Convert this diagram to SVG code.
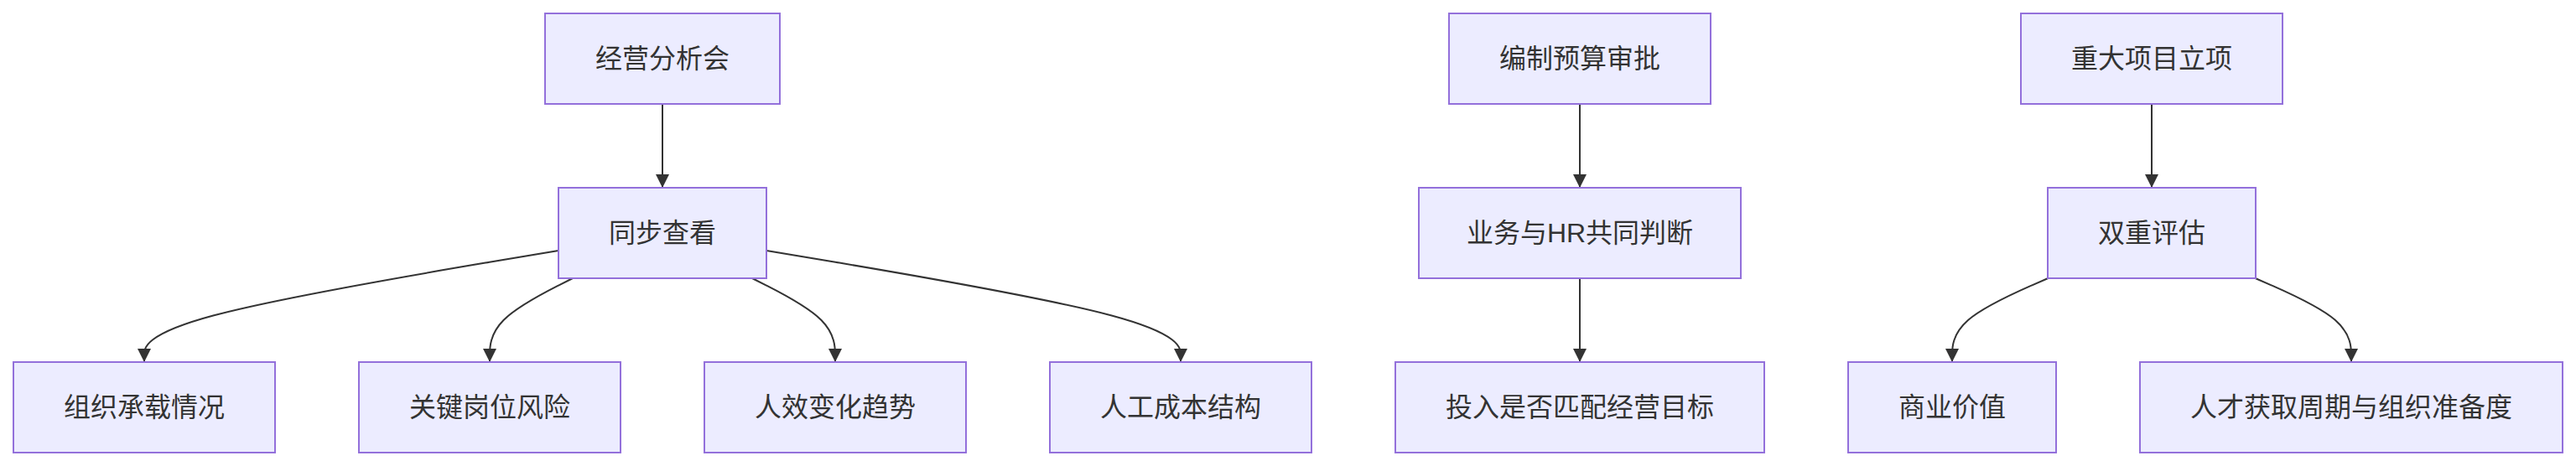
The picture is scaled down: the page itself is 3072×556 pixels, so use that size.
<svg xmlns="http://www.w3.org/2000/svg" width="3072" height="556" viewBox="0 0 3072 556">
<style>
.node rect{fill:#ECECFF;stroke:#9370DB;stroke-width:2}
.node text{font-family:"Liberation Sans","Noto Sans CJK SC",sans-serif;font-size:32px;fill:#333333;text-anchor:middle;dominant-baseline:central}
.edges path{fill:none;stroke:#333333;stroke-width:2;marker-end:url(#arrow)}
</style>
<defs>
<marker id="arrow" viewBox="0 0 10 10" refX="10" refY="5" markerUnits="userSpaceOnUse" markerWidth="16" markerHeight="16" orient="auto">
<path d="M0,0 L10,5 L0,10 z" fill="#333333"/>
</marker>
</defs>
<rect width="3072" height="556" fill="#ffffff"/>
<g class="edges">
<path d="M790,124 L790,224"/>
<path d="M666,299 L583.7,312.8 C501.3,326.7 336.7,354.3 254.3,376.5 C172,398.7 172,415.3 172,423.7 L172,432"/>
<path d="M683,332 L666.5,340.3 C650,348.7 617,365.3 600.5,382 C584,398.7 584,415.3 584,423.7 L584,432"/>
<path d="M897,332 L913.5,340.3 C930,348.7 963,365.3 979.5,382 C996,398.7 996,415.3 996,423.7 L996,432"/>
<path d="M914,299 L996.3,312.8 C1078.7,326.7 1243.3,354.3 1325.7,376.5 C1408,398.7 1408,415.3 1408,423.7 L1408,432"/>
<path d="M1884,124 L1884,224"/>
<path d="M1884,332 L1884,432"/>
<path d="M2566,124 L2566,224"/>
<path d="M2442.4,332 L2423.3,340.3 C2404.3,348.7 2366.1,365.3 2347,382 C2328,398.7 2328,415.3 2328,423.7 L2328,432"/>
<path d="M2689.6,332 L2708.7,340.3 C2727.7,348.7 2765.9,365.3 2785,382 C2804,398.7 2804,415.3 2804,423.7 L2804,432"/>
</g>
<g id="n_jyfxh" class="node"><rect x="650" y="16" width="280" height="108"/><text x="790" y="70">经营分析会</text></g>
<g id="n_tbck" class="node"><rect x="666" y="224" width="248" height="108"/><text x="790" y="278">同步查看</text></g>
<g id="n_zzcz" class="node"><rect x="16" y="432" width="312" height="108"/><text x="172" y="486">组织承载情况</text></g>
<g id="n_gjgw" class="node"><rect x="428" y="432" width="312" height="108"/><text x="584" y="486">关键岗位风险</text></g>
<g id="n_rxbh" class="node"><rect x="840" y="432" width="312" height="108"/><text x="996" y="486">人效变化趋势</text></g>
<g id="n_rgcb" class="node"><rect x="1252" y="432" width="312" height="108"/><text x="1408" y="486">人工成本结构</text></g>
<g id="n_bzys" class="node"><rect x="1728" y="16" width="312" height="108"/><text x="1884" y="70">编制预算审批</text></g>
<g id="n_ywhr" class="node"><rect x="1692" y="224" width="384" height="108"/><text x="1884" y="278">业务与HR共同判断</text></g>
<g id="n_trsf" class="node"><rect x="1664" y="432" width="440" height="108"/><text x="1884" y="486">投入是否匹配经营目标</text></g>
<g id="n_zdxm" class="node"><rect x="2410" y="16" width="312" height="108"/><text x="2566" y="70">重大项目立项</text></g>
<g id="n_scpg" class="node"><rect x="2442" y="224" width="248" height="108"/><text x="2566" y="278">双重评估</text></g>
<g id="n_syjz" class="node"><rect x="2204" y="432" width="248" height="108"/><text x="2328" y="486">商业价值</text></g>
<g id="n_rchq" class="node"><rect x="2552" y="432" width="504" height="108"/><text x="2804" y="486">人才获取周期与组织准备度</text></g>
</svg>
